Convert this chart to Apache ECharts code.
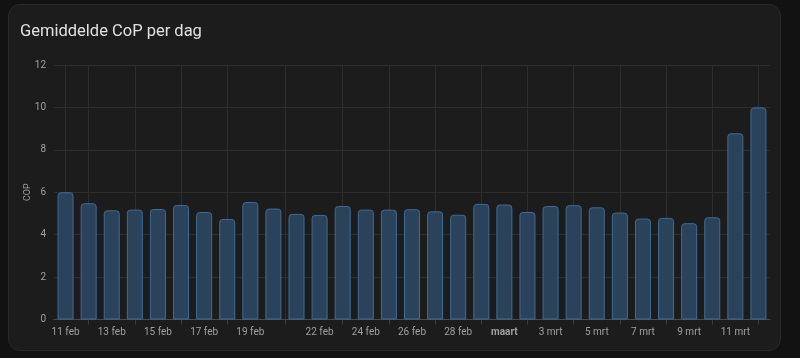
<!DOCTYPE html>
<html>
<head>
<meta charset="utf-8">
<script src="https://cdn.jsdelivr.net/npm/echarts@6/dist/echarts.min.js"></script>
<style>
  html, body { margin: 0; padding: 0; background: #121212; width: 800px; height: 358px; overflow: hidden; }
  #card { position: absolute; left: 8px; top: 4px; width: 773px; height: 347px; background: #1c1c1c; border: 1px solid #2a2a2a; border-radius: 12px; box-sizing: border-box; }
  #chart { position: absolute; left: 0; top: 0; width: 800px; height: 358px; }
</style>
</head>
<body>
<div id="card"></div>
<div id="chart"></div>
<script>
const titleText = 'Gemiddelde CoP per dag';
const yName = 'COP';
const dates = ['11 feb','12 feb','13 feb','14 feb','15 feb','16 feb','17 feb','18 feb','19 feb','20 feb',
  '21 feb','22 feb','23 feb','24 feb','25 feb','26 feb','27 feb','28 feb','29 feb','1 mrt',
  '2 mrt','3 mrt','4 mrt','5 mrt','6 mrt','7 mrt','8 mrt','9 mrt','10 mrt','11 mrt','12 mrt'];
const copValues = [6.0, 5.48, 5.15, 5.18, 5.21, 5.40, 5.07, 4.74, 5.54, 5.23,
  4.98, 4.93, 5.35, 5.18, 5.18, 5.20, 5.10, 4.94, 5.45, 5.42,
  5.07, 5.35, 5.39, 5.29, 5.04, 4.76, 4.79, 4.54, 4.82, 8.78, 10.0];
const xTickLabels = ['11 feb','13 feb','15 feb','17 feb','19 feb','22 feb','24 feb','26 feb','28 feb','1 mrt',
  '3 mrt','5 mrt','7 mrt','9 mrt','11 mrt'];
const monthLabel = { '1 mrt': 'maart' };
const yTicks = [0, 2, 4, 6, 8, 10, 12];

const labelIdx = xTickLabels.map(d => dates.indexOf(d));
const tickIdx = labelIdx.map((v, i) => i < labelIdx.length - 1 ? (v + labelIdx[i + 1]) / 2 : v + 1);

const chart = echarts.init(document.getElementById('chart'), null, { renderer: 'canvas' });
const font = 'Roboto, "Noto Sans", sans-serif';
chart.setOption({
  backgroundColor: 'transparent',
  animation: false,
  title: {
    text: titleText, left: 15, top: 18,
    textStyle: { color: '#e1e1e1', fontSize: 16.5, fontWeight: 'normal', fontFamily: font }
  },
  grid: { left: 54, right: 30, top: 65, bottom: 38.5, containLabel: false },
  xAxis: {
    type: 'value', min: -0.5, max: dates.length - 0.5,
    axisLine: { show: true, lineStyle: { color: '#4a4a4a' } },
    axisTick: { show: true, length: 5, customValues: tickIdx, lineStyle: { color: '#3c3c3c' } },
    splitLine: { show: true, lineStyle: { color: '#2e2e2e' } },
    axisLabel: {
      customValues: labelIdx, margin: 8, color: '#a0a0a0', fontSize: 10, fontFamily: font,
      formatter: v => {
        const d = dates[Math.round(v)];
        return monthLabel[d] ? '{b|' + monthLabel[d] + '}' : d;
      },
      rich: { b: { fontWeight: 'bold', color: '#a0a0a0', fontSize: 10, fontFamily: font } }
    }
  },
  yAxis: {
    type: 'value', min: yTicks[0], max: yTicks[yTicks.length - 1], interval: 2,
    name: yName, nameLocation: 'middle', nameGap: 22, nameRotate: 90, nameMoveOverlap: false,
    nameTextStyle: { color: '#a0a0a0', fontSize: 9, fontFamily: font },
    axisLine: { show: true, lineStyle: { color: '#2e2e2e' } },
    axisTick: { show: false },
    splitLine: { show: true, lineStyle: { color: '#2e2e2e' } },
    axisLabel: { color: '#a0a0a0', fontSize: 10, margin: 8, fontFamily: font }
  },
  series: [{
    type: 'bar',
    data: copValues.map((v, i) => [i, v]),
    barWidth: 16,
    itemStyle: { color: '#2b425b', borderColor: '#3f6c98', borderWidth: 1, borderRadius: [3, 3, 0, 0] }
  }]
});
</script>
</body>
</html>
